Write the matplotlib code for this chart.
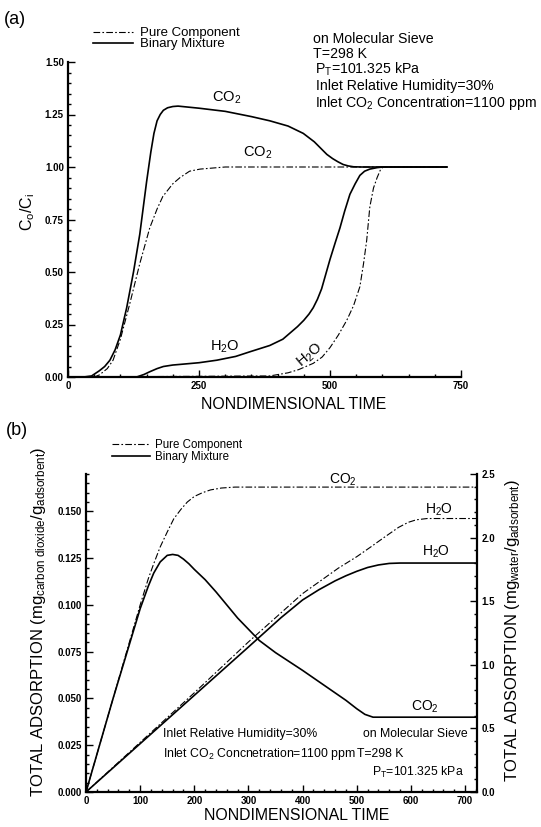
import matplotlib
matplotlib.use("Agg")
import matplotlib.pyplot as plt
from matplotlib.lines import Line2D
from matplotlib.ticker import MultipleLocator, FormatStrFormatter

plt.rcParams['font.family'] = ['Liberation Sans', 'DejaVu Sans']
plt.rcParams['mathtext.fontset'] = 'custom'
plt.rcParams['mathtext.rm'] = 'Liberation Sans'
plt.rcParams['mathtext.it'] = 'Liberation Sans:italic'
plt.rcParams['mathtext.bf'] = 'Liberation Sans:bold'

# (a) breakthrough curves, C_o/C_i vs nondimensional time
a_bin_co2_t = [0, 30, 45, 60, 70, 80, 90, 100, 112, 125, 137, 150, 158, 164, 170, 176, 182,
               190, 200, 210, 250, 300, 350, 385, 420, 449, 470, 482, 494, 505, 515, 525,
               535, 545, 560, 600, 650, 723]
a_bin_co2_v = [0, 0, 0.005, 0.03, 0.05, 0.08, 0.13, 0.2, 0.33, 0.5, 0.68, 0.93, 1.07, 1.16, 1.22,
               1.25, 1.27, 1.282, 1.288, 1.29, 1.28, 1.265, 1.24, 1.22, 1.195, 1.16, 1.12,
               1.09, 1.06, 1.04, 1.025, 1.012, 1.005, 1.001, 1.0, 1.0, 1.0, 1.0]

a_pure_co2_t = [0, 50, 60, 75, 86, 100, 118, 137, 156, 170, 181, 200, 214, 232, 252, 300,
                400, 500, 600, 723]
a_pure_co2_v = [0, 0, 0.01, 0.04, 0.08, 0.18, 0.35, 0.54, 0.71, 0.8, 0.86, 0.92, 0.95, 0.98,
                0.99, 1.0, 1.0, 1.0, 1.0, 1.0]

a_bin_h2o_t = [0, 131, 145, 156, 170, 182, 200, 214, 250, 284, 320, 347, 385, 410, 424, 438,
               450, 460, 468, 476, 484, 492, 500, 510, 519, 528, 538, 548, 557, 566, 576,
               590, 601, 650, 723]
a_bin_h2o_v = [0, 0, 0.012, 0.025, 0.04, 0.05, 0.057, 0.06, 0.068, 0.08, 0.098, 0.12, 0.15,
               0.18, 0.21, 0.24, 0.27, 0.3, 0.33, 0.37, 0.42, 0.49, 0.56, 0.64, 0.71, 0.79,
               0.87, 0.92, 0.96, 0.98, 0.99, 0.997, 1.0, 1.0, 1.0]

a_pure_h2o_t = [0, 385, 420, 440, 468, 485, 500, 516, 532, 545, 557, 564, 570, 576, 583, 590,
                596, 601, 650, 723]
a_pure_h2o_v = [0, 0.005, 0.02, 0.035, 0.065, 0.095, 0.14, 0.2, 0.27, 0.34, 0.43, 0.54, 0.65,
                0.81, 0.9, 0.95, 0.985, 1.0, 1.0, 1.0]

# (b) total adsorption vs nondimensional time
b_pure_co2_t = [0, 50, 100, 115, 125, 137, 150, 162, 175, 187, 200, 215, 230, 250, 275, 300,
                400, 500, 600, 722]
b_pure_co2_v = [0, 0.05, 0.1, 0.114, 0.122, 0.131, 0.139, 0.146, 0.151, 0.155, 0.158, 0.16,
                0.1615, 0.1625, 0.163, 0.163, 0.163, 0.163, 0.163, 0.163]

b_bin_co2_t = [0, 50, 100, 115, 125, 137, 150, 160, 170, 180, 190, 200, 220, 240, 260, 280,
               300, 320, 350, 400, 450, 480, 500, 515, 530, 600, 722]
b_bin_co2_v = [0, 0.05, 0.098, 0.11, 0.117, 0.123, 0.1265, 0.127, 0.1265, 0.1245, 0.122,
               0.119, 0.1135, 0.107, 0.1, 0.093, 0.087, 0.081, 0.0745, 0.065, 0.055, 0.049,
               0.0445, 0.0415, 0.04, 0.04, 0.04]

b_bin_h2o_t = [0, 100, 200, 300, 360, 400, 430, 460, 480, 500, 520, 540, 560, 580, 722]
b_bin_h2o_w = [0, 0.38, 0.76, 1.14, 1.37, 1.51, 1.59, 1.66, 1.7, 1.735, 1.765, 1.785, 1.797,
               1.8, 1.8]

b_pure_h2o_t = [0, 100, 200, 300, 400, 466, 500, 527, 550, 577, 595, 610, 630, 722]
b_pure_h2o_w = [0, 0.39, 0.78, 1.18, 1.56, 1.76, 1.85, 1.93, 2.0, 2.08, 2.12, 2.14, 2.15, 2.15]

W, H = 541, 827
DASH = (6, 2, 1.5, 2)


def fx(px):
    return px / W


def fy(py):
    return 1 - py / H


def style_axis(ax):
    ax.tick_params(which='both', direction='in', labelsize=7, width=1.0, pad=3)
    ax.tick_params(which='major', length=5)
    ax.tick_params(which='minor', length=2.5)
    for s in ax.spines.values():
        s.set_linewidth(1.6)
    for lab in ax.get_xticklabels() + ax.get_yticklabels():
        lab.set_fontweight('bold')


fig = plt.figure(figsize=(W / 100, H / 100), dpi=100)

# ---- panel (a)
ax1 = fig.add_axes([fx(68), fy(377), 393 / W, 315 / H])
ax1.plot(a_pure_co2_t, a_pure_co2_v, color='black', lw=0.8, dashes=DASH)
ax1.plot(a_pure_h2o_t, a_pure_h2o_v, color='black', lw=0.8, dashes=DASH)
ax1.plot(a_bin_co2_t, a_bin_co2_v, color='black', lw=1.2)
ax1.plot(a_bin_h2o_t, a_bin_h2o_v, color='black', lw=1.2)
ax1.set_xlim(0, 750)
ax1.set_ylim(0, 1.5)
ax1.xaxis.set_major_locator(MultipleLocator(250))
ax1.xaxis.set_minor_locator(MultipleLocator(50))
ax1.yaxis.set_major_locator(MultipleLocator(0.25))
ax1.yaxis.set_minor_locator(MultipleLocator(0.05))
ax1.yaxis.set_major_formatter(FormatStrFormatter('%.2f'))
ax1.spines['top'].set_visible(False)
ax1.spines['right'].set_visible(False)
style_axis(ax1)

leg1 = [Line2D([], [], color='black', lw=0.8, dashes=DASH),
        Line2D([], [], color='black', lw=1.2)]
ax1.legend(leg1, ['Pure Component', 'Binary Mixture'], loc='upper left',
           bbox_to_anchor=(fx(93), fy(27)), bbox_transform=fig.transFigure,
           frameon=False, fontsize=9.5, handlelength=3.0, handletextpad=0.6,
           labelspacing=-0.08, borderpad=0, borderaxespad=0)

fig.text(fx(4), fy(20), '(a)', fontsize=13, va='center')
for txt, x, y in [('on Molecular Sieve', 313, 43), ('T=298 K', 313, 58),
                  ('P$_\\mathrm{T}$=101.325 kPa', 315, 74),
                  ('Inlet Relative Humidity=30%', 316, 90),
                  ('Inlet CO$_2$ Concentration=1100 ppm', 315, 107)]:
    fig.text(fx(x), fy(y), txt, fontsize=10.2, va='baseline')

fig.text(fx(227), fy(98), 'CO$_2$', fontsize=10.5, ha='center', va='center')
fig.text(fx(258), fy(153), 'CO$_2$', fontsize=10.5, ha='center', va='center')
fig.text(fx(225), fy(347), 'H$_2$O', fontsize=10.5, ha='center', va='center')
fig.text(fx(310), fy(355), 'H$_2$O', fontsize=10.5, ha='center', va='center', rotation=40)

fig.text(fx(28), fy(212), 'C$_\\mathrm{o}$/C$_\\mathrm{i}$', fontsize=11.5,
         rotation=90, ha='center', va='center')
fig.text(fx(294), fy(404), 'NONDIMENSIONAL TIME', fontsize=11.4, ha='center', va='center')

# ---- panel (b)
ax2 = fig.add_axes([fx(86), fy(792), 391 / W, 318 / H])
ax2r = ax2.twinx()
ax2.plot(b_pure_co2_t, b_pure_co2_v, color='black', lw=0.8, dashes=DASH)
ax2.plot(b_bin_co2_t, b_bin_co2_v, color='black', lw=1.2)
ax2r.plot(b_pure_h2o_t, b_pure_h2o_w, color='black', lw=0.8, dashes=DASH)
ax2r.plot(b_bin_h2o_t, b_bin_h2o_w, color='black', lw=1.2)
ax2.set_xlim(0, 722)
ax2.set_ylim(0, 0.17)
ax2r.set_ylim(0, 2.5)
ax2.xaxis.set_major_locator(MultipleLocator(100))
ax2.xaxis.set_minor_locator(MultipleLocator(20))
ax2.yaxis.set_major_locator(MultipleLocator(0.025))
ax2.yaxis.set_minor_locator(MultipleLocator(0.005))
ax2.yaxis.set_major_formatter(FormatStrFormatter('%.3f'))
ax2r.yaxis.set_major_locator(MultipleLocator(0.5))
ax2r.yaxis.set_minor_locator(MultipleLocator(0.1))
ax2r.yaxis.set_major_formatter(FormatStrFormatter('%.1f'))
ax2.spines['top'].set_visible(False)
ax2.spines['right'].set_visible(False)
ax2r.spines['top'].set_visible(False)
ax2r.spines['left'].set_visible(False)
ax2r.spines['bottom'].set_visible(False)
style_axis(ax2)
style_axis(ax2r)

leg2 = [Line2D([], [], color='black', lw=0.8, dashes=DASH),
        Line2D([], [], color='black', lw=1.2)]
ax2.legend(leg2, ['Pure Component', 'Binary Mixture'], loc='upper left',
           bbox_to_anchor=(fx(112), fy(439)), bbox_transform=fig.transFigure,
           frameon=False, fontsize=8.3, handlelength=3.3, handletextpad=0.45,
           labelspacing=0.0, borderpad=0, borderaxespad=0)

fig.text(fx(6), fy(430), '(b)', fontsize=13, va='center')
for txt, x, y in [('Inlet Relative Humidity=30%', 163, 737),
                  ('Inlet CO$_2$ Concnetration=1100 ppm', 163, 757),
                  ('on Molecular Sieve', 363, 737), ('T=298 K', 357, 757),
                  ('P$_\\mathrm{T}$=101.325 kPa', 372, 776)]:
    fig.text(fx(x), fy(y), txt, fontsize=8.8, va='baseline')

fig.text(fx(343), fy(480), 'CO$_2$', fontsize=10, ha='center', va='center')
fig.text(fx(439), fy(510), 'H$_2$O', fontsize=10, ha='center', va='center')
fig.text(fx(436), fy(552), 'H$_2$O', fontsize=10, ha='center', va='center')
fig.text(fx(425), fy(707), 'CO$_2$', fontsize=10, ha='center', va='center')

fig.text(fx(39), fy(622),
         'TOTAL ADSORPTION (mg$_{\\mathrm{carbon\\ dioxide}}$/g$_{\\mathrm{adsorbent}}$)',
         fontsize=12, rotation=90, ha='center', va='center')
fig.text(fx(513), fy(630),
         'TOTAL ADSORPTION (mg$_{\\mathrm{water}}$/g$_{\\mathrm{adsorbent}}$)',
         fontsize=12, rotation=90, ha='center', va='center')
fig.text(fx(297), fy(816), 'NONDIMENSIONAL TIME', fontsize=11.4, ha='center', va='center')

fig.savefig('out.png', dpi=100)
